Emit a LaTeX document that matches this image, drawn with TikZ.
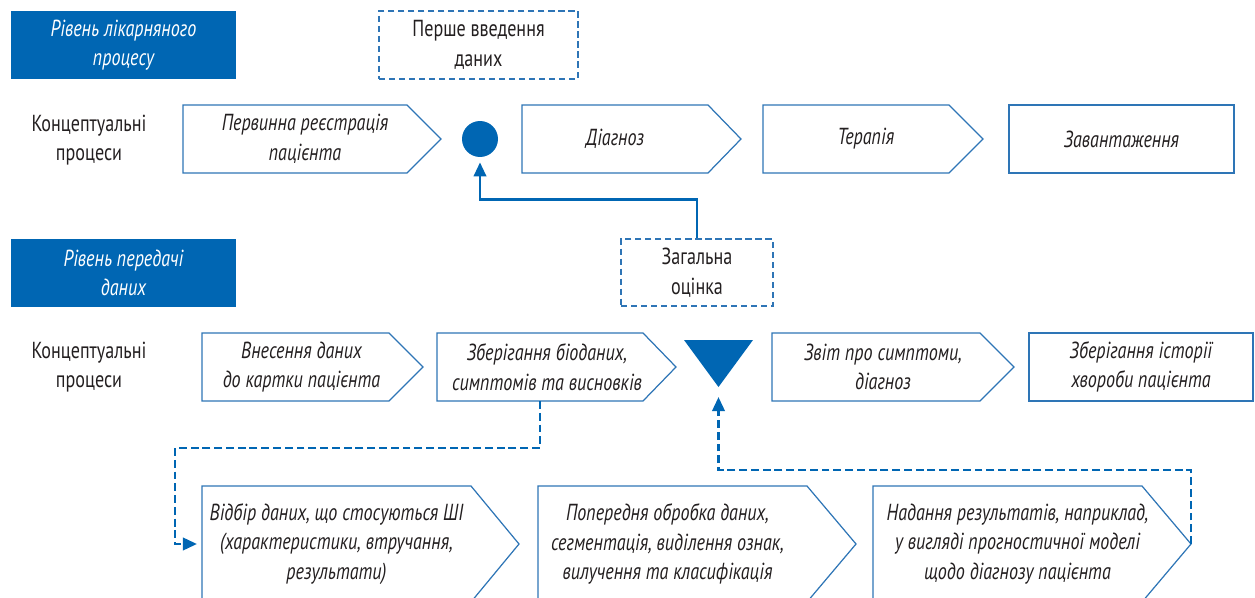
\documentclass[tikz,border=0pt]{standalone}
\usepackage{fontspec}
\setmainfont{PT Sans}[FakeStretch=0.78]
\usepackage{tikz}
\usetikzlibrary{arrows.meta}
\definecolor{mainblue}{HTML}{0066B3}
\definecolor{lineblue}{HTML}{2E75B6}
\definecolor{inkgrey}{HTML}{231F20}
\def\stepbox[#1](#2)(#3:#4:#5:#6:#7)#8{%
  \draw[stepline] (#3,#6) -- (#4,#6) -- (#5,{(#6+#7)/2}) -- (#4,#7) -- (#3,#7) -- cycle;
  \node[steptext,#1] (#2) at ({(#3+#4)/2},{(#6+#7)/2}) {#8};
  \coordinate (#2-w) at (#3,{(#6+#7)/2});
  \coordinate (#2-s) at ({(#3+#4)/2},#7);
  \coordinate (#2-tip) at (#5,{(#6+#7)/2});}

\begin{document}
\begin{tikzpicture}[x=0.02cm,y=-0.02cm,
    stepline/.style={draw=lineblue, line width=0.7pt},
    steptext/.style={font=\itshape\fontsize{13.2}{16.8}\selectfont, text=inkgrey, align=center, inner sep=0pt},
    header/.style={fill=mainblue, text=white, font=\itshape\fontsize{13.2}{16.8}\selectfont, align=center, minimum width=4.5cm, minimum height=1.36cm, inner sep=0pt},
    notebox/.style={draw=lineblue, line width=0.7pt, dash pattern=on 3.5pt off 2.2pt, text=inkgrey, font=\fontsize{13.2}{16.8}\selectfont, align=center, inner sep=0pt},
    rowlabel/.style={text=inkgrey, font=\fontsize{13.2}{16.8}\selectfont, align=center},
    solidlink/.style={draw=mainblue, line width=1.6pt, -{Triangle[length=8pt,width=7pt]}},
    dashlink/.style={draw=mainblue, line width=1.6pt, dash pattern=on 4.5pt off 2.2pt, -{Triangle[length=8pt,width=7pt]}}]
    %%%%% START %%%%%
    \useasboundingbox (0,0) rectangle (1255,598);

    % level of the hospital process
    \node[header] (lvlhosp) at (123.5,45) {Рівень лікарняного\\процесу};
    \node[notebox, minimum width=3.98cm, minimum height=1.36cm] (firstin) at (478.5,45) {Перше введення\\даних};
    \node[rowlabel] (conc1) at (89,140) {Концептуальні\\процеси};

    \stepbox[xshift=0.2cm](reg)(183:407:441:105:173){Первинна реєстрація\\пацієнта}
    \node[circle, fill=mainblue, minimum size=0.72cm, inner sep=0pt] (dot) at (480,139) {};
    \stepbox[](diag)(522:708:741:105:173){Діагноз}
    \stepbox[xshift=0.2cm](ther)(763:949:983:105:173){Терапія}
    \stepbox[](load)(1009:1234:1234:105:173){Завантаження}

    % level of data transfer
    \node[header] (lvldata) at (123.5,273) {Рівень передачі\\даних};
    \node[notebox, minimum width=3.04cm, minimum height=1.34cm] (overall) at (697,272.5) {Загальна\\оцінка};
    \node[rowlabel] (conc2) at (89,367) {Концептуальні\\процеси};

    \stepbox[xshift=0.12cm](card)(202:389:423:333:401){Внесення даних\\до картки пацієнта}
    \stepbox[xshift=0.14cm](store)(437:643:676:333:401){Зберігання біоданих,\\симптомів та висновків}
    \draw[fill=mainblue, draw=none] (684,340) -- (753,340) -- (718.5,387) -- cycle;
    \coordinate (tri) at (718.5,387);
    \stepbox[xshift=0.14cm](report)(772:980:1014:333:401){Звіт про симптоми,\\діагноз}
    \stepbox[](hist)(1029:1253:1253:333:401){Зберігання історії\\хвороби пацієнта}

    % processing steps
    \stepbox[](select)(202:471:519:486:602){Відбір даних, що стосуються ШІ\\(характеристики, втручання,\\результати)}
    \stepbox[xshift=-0.1cm](prep)(538:807:856:486:602){Попередня обробка даних,\\сегментація, виділення ознак,\\вилучення та класифікація}
    \stepbox[xshift=0.2cm](result)(873:1142:1191:486:602){Надання результатів, наприклад,\\у вигляді прогностичної моделі\\щодо діагнозу пацієнта}

    % connectors
    \draw[solidlink, shorten >=0.1cm] (overall.north) -- ++(0,-39) -| (dot.south);
    \draw[dashlink, shorten >=0.1cm] (store-s) -- ++(0,47) -- ++(-365,0) |- (select-w);
    \draw[dashlink, shorten >=0.2cm] (result-tip) -- ++(0,-74) -| (tri);

    %%%%% END %%%%%
\end{tikzpicture}
\end{document}
